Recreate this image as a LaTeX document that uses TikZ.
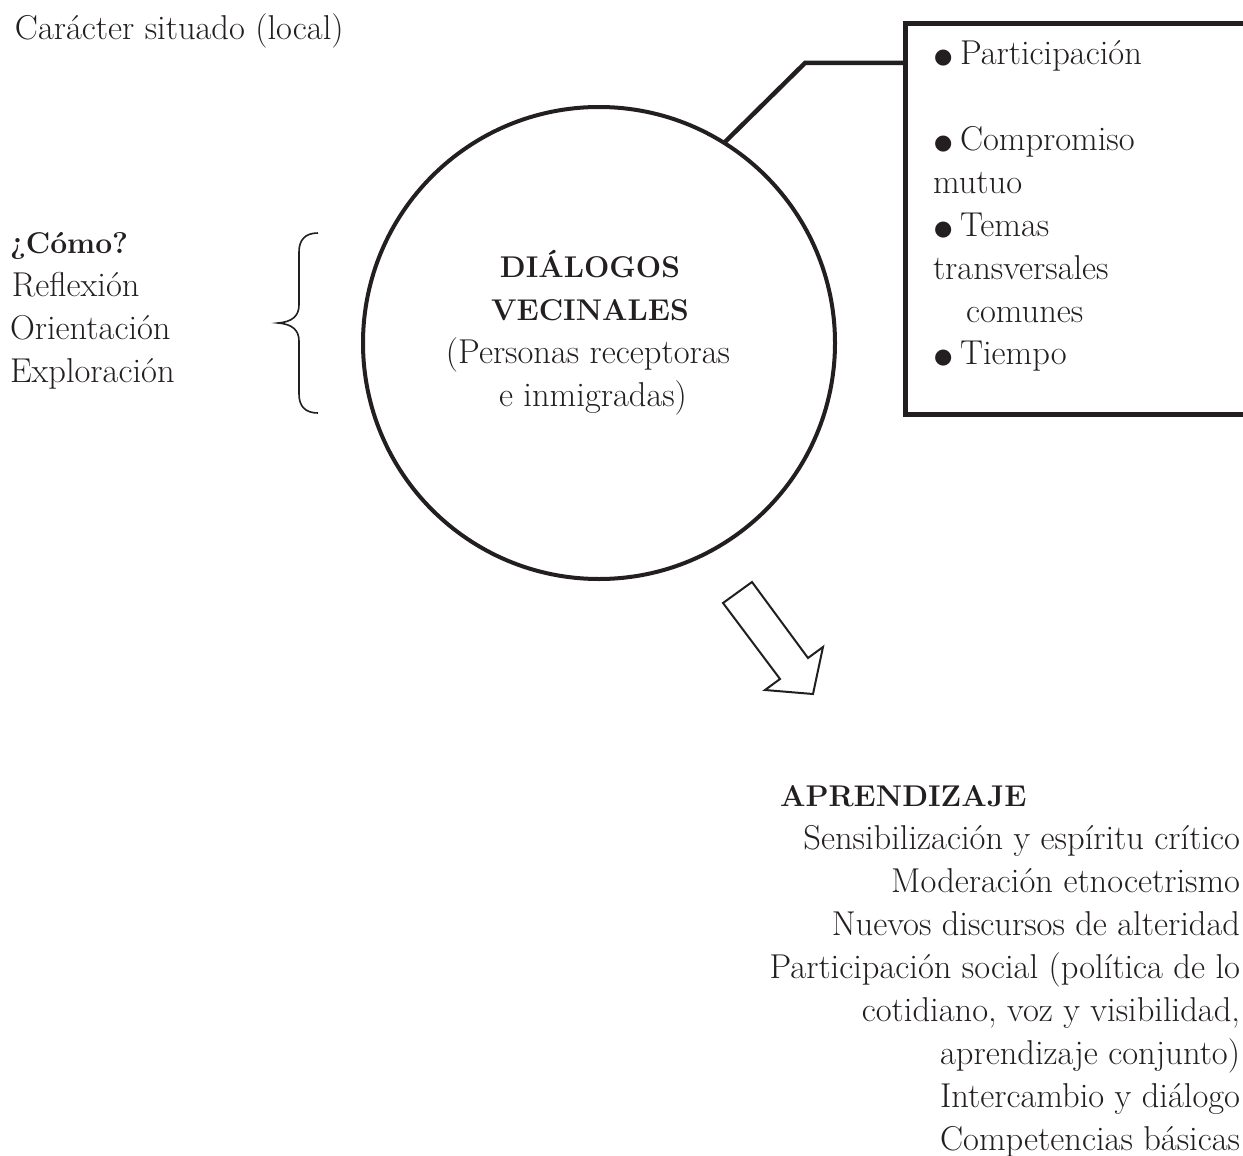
\documentclass[tikz,border=0pt]{standalone}
\usepackage{fontspec}
\newfontfamily\dejavu{DejaVu Sans}
\definecolor{ink}{RGB}{35,31,32}
\newcommand\mybul{\makebox[27pt][l]{\hspace*{1pt}\raisebox{1pt}{\fontsize{21}{21}\dejavu ●}}}
\newcommand\bfx[1]{{\fontsize{30}{43}\selectfont\bfseries #1}}
\begin{document}
\begin{tikzpicture}[x=1pt,y=-1pt,
  txt/.style={font=\fontsize{34.5}{43}\selectfont, text=ink, inner sep=0pt, outer sep=0pt, anchor=base west},
  ctr/.style={txt, anchor=base},
  rgt/.style={txt, anchor=base east},
  conn/.style={draw=ink, line width=4.5pt, line join=miter},
  thin/.style={draw=ink, line width=1.6pt, line join=miter}]
\useasboundingbox (0,0) rectangle (1243,1156);
\clip (0,0) rectangle (1243,1156);

% top-left label
\node[txt] (sit) at (15,40) {Carácter situado (local)};

% left list
\node[txt] (como) at (10,253) {\bfx{¿Cómo?}};
\node[txt] (refl) at (12,296) {Reflexión};
\node[txt] (orie) at (10,339) {Orientación};
\node[txt] (expl) at (10,382) {Exploración};

% brace
\draw[thin] (318,233) .. controls (305,233) and (299,240) .. (299,252) -- (299,305)
  .. controls (299,316) and (292,322) .. (278,323)
  .. controls (292,324) and (299,330) .. (299,341) -- (299,394)
  .. controls (299,406) and (305,413) .. (318,413);

% circle
\node[circle, draw=ink, line width=4pt, minimum size=472pt, inner sep=0pt, outer sep=0pt] (circ) at (599,343) {};
\node[ctr] (c1) at (590,277) {\bfx{DIÁLOGOS}};
\node[ctr] (c2) at (590,320) {\bfx{VECINALES}};
\node[ctr] (c3) at (588,363) {(Personas receptoras};
\node[ctr] (c4) at (593,406) {e inmigradas)};

% box
\node[draw=ink, line width=5pt, rectangle, minimum width=400pt, minimum height=390pt,
      inner sep=0pt, outer sep=0pt, anchor=north west] (box) at (905,24) {};
\node[txt] (b1) at (933,65) {\mybul Participación};
\node[txt] (b2) at (933,150) {\mybul Compromiso};
\node[txt] (b3) at (933,193) {mutuo};
\node[txt] (b4) at (933,236) {\mybul Temas};
\node[txt] (b5) at (933,279) {transversales};
\node[txt] (b6) at (966,322) {comunes};
\node[txt] (b7) at (933,364) {\mybul Tiempo};

% connector circle -> box
\coordinate (elbow) at (805,63);
\draw[conn] (circ.58.6) -- (elbow) -- (box.west |- elbow);

% hollow block arrow
\draw[thin, line width=2pt, fill=white] (723,603) -- (752,582) -- (808,658) -- (823,647)
  -- (813,694) -- (765,690) -- (780,679) -- cycle;

% learning block
\node[txt] (apr) at (780,806) {\bfx{APRENDIZAJE}};
\node[rgt] (a1) at (1240,849) {Sensibilización y espíritu crítico};
\node[rgt] (a2) at (1240,892) {Moderación etnocetrismo};
\node[rgt] (a3) at (1240,935) {Nuevos discursos de alteridad};
\node[rgt] (a4) at (1240,978) {Participación social (política de lo};
\node[rgt] (a5) at (1240,1021) {cotidiano, voz y visibilidad,};
\node[rgt] (a6) at (1240,1064) {aprendizaje conjunto)};
\node[rgt] (a7) at (1240,1107) {Intercambio y diálogo};
\node[rgt] (a8) at (1240,1150) {Competencias básicas};
\end{tikzpicture}
\end{document}
